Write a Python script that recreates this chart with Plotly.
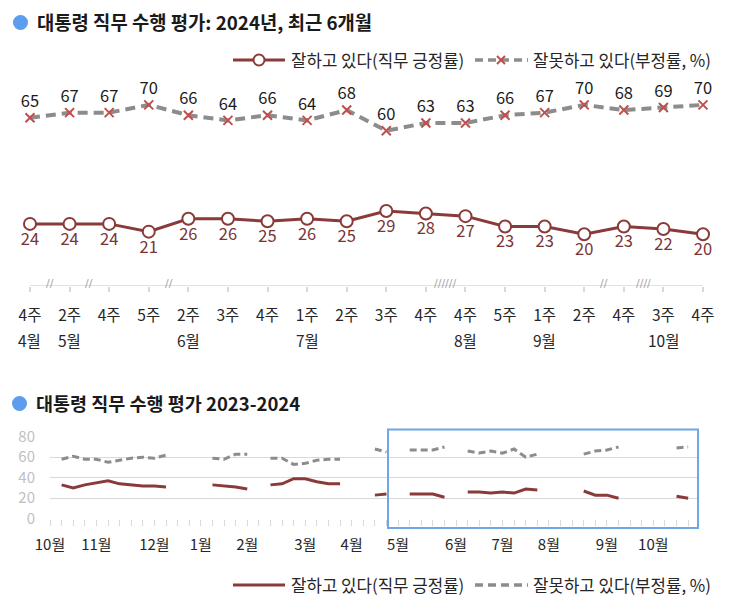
import plotly.graph_objects as go

# ---------------- data: top chart (2024, last 6 months) ----------------
weeks = ["4주", "2주", "4주", "5주", "2주", "3주", "4주", "1주", "2주", "3주",
         "4주", "4주", "5주", "1주", "2주", "4주", "3주", "4주"]
month_pos_top = [1, 2, 5, 8, 12, 14, 17]
month_lbl_top = ["4월", "5월", "6월", "7월", "8월", "9월", "10월"]
approve = [24, 24, 24, 21, 26, 26, 25, 26, 25, 29, 28, 27, 23, 23, 20, 23, 22, 20]
disapprove = [65, 67, 67, 70, 66, 64, 66, 64, 68, 60, 63, 63, 66, 67, 70, 68, 69, 70]
break_pos = [1.5, 2.5, 4.5, 11.5, 15.5, 16.5]
break_txt = ["//", "//", "//", "//////", "//", "////"]

# ---------------- data: bottom chart (weekly, 2023-10 .. 2024-10) ----------------
n_weeks = 56
seg_start = [1, 14, 19, 28, 31, 36, 46, 54]
seg_approve = [[33, 30, 33, 35, 37, 34, 33, 32, 32, 31],
               [33, 32, 31, 29],
               [33, 34, 39, 39, 36, 34, 34],
               [23, 24],
               [24, 24, 24, 21],
               [26, 26, 25, 26, 25, 29, 28],
               [27, 23, 23, 20],
               [22, 20]]
seg_disapprove = [[58, 61, 58, 58, 55, 57, 59, 60, 59, 62],
                  [59, 58, 63, 63],
                  [59, 59, 53, 54, 57, 58, 58],
                  [68, 65],
                  [67, 67, 67, 70],
                  [66, 64, 66, 64, 68, 60, 63],
                  [63, 66, 67, 70],
                  [69, 70]]
month_pos_bot = [0, 4, 9, 13, 17, 22, 26, 30, 35, 39, 43, 48, 52]
month_lbl_bot = ["10월", "11월", "12월", "1월", "2월", "3월", "4월", "5월",
                 "6월", "7월", "8월", "9월", "10월"]
legend_names = ["잘하고 있다(직무 긍정률)", "잘못하고 있다(부정률, %)"]

b_app = [None] * n_weeks
b_dis = [None] * n_weeks
for s, a, d in zip(seg_start, seg_approve, seg_disapprove):
    for i, (va, vd) in enumerate(zip(a, d)):
        b_app[s + i] = va
        b_dis[s + i] = vd

W, H = 745, 610
FONT = "Noto Sans CJK KR"
RED = "#8b3a3a"
GRAY = "#8c8c8c"
XRED = "#c0504d"
BLUE = "#6ea6e6"
TXT = "#262626"
LIGHT = "#d9d9d9"


def px_x(v):
    return v / W


def px_y(v):
    return 1 - v / H


fig = go.Figure()

x_top = list(range(1, len(weeks) + 1))
fig.add_trace(go.Scatter(
    x=x_top, y=approve, mode="lines+markers+text",
    name=legend_names[0],
    text=[str(v) for v in approve], textposition="bottom center",
    textfont=dict(family=FONT, size=16.5, color="#7a3434"),
    line=dict(color=RED, width=3),
    marker=dict(symbol="circle", size=12, color="white", line=dict(color=RED, width=2)),
    cliponaxis=False, xaxis="x", yaxis="y"))
fig.add_trace(go.Scatter(
    x=x_top, y=disapprove, mode="lines+markers+text",
    name=legend_names[1],
    text=[str(v) for v in disapprove], textposition="top center",
    textfont=dict(family=FONT, size=16.5, color="#1a1a1a"),
    line=dict(color=GRAY, width=4, dash="10px,6px"),
    marker=dict(symbol="x-thin", size=9, color=XRED, line=dict(color=XRED, width=2)),
    cliponaxis=False, xaxis="x", yaxis="y"))

x_bot = list(range(n_weeks))
fig.add_trace(go.Scatter(
    x=x_bot, y=b_app, mode="lines", name=legend_names[0],
    line=dict(color=RED, width=3), xaxis="x2", yaxis="y2"))
fig.add_trace(go.Scatter(
    x=x_bot, y=b_dis, mode="lines", name=legend_names[1],
    line=dict(color=GRAY, width=3, dash="7px,4px"), xaxis="x2", yaxis="y2"))

shapes = []
annotations = []

# top axis line from first to last point
shapes.append(dict(type="line", xref="x", yref="y", x0=1, x1=len(weeks), y0=0, y1=0,
                   line=dict(color=LIGHT, width=1.5), layer="below"))
# break marks
for p, t in zip(break_pos, break_txt):
    annotations.append(dict(xref="x", yref="y", x=p, y=0, text=t, showarrow=False,
                            yanchor="middle", yshift=3,
                            font=dict(family="DejaVu Sans", size=11, color="#a6a6a6")))
# top month labels
for p, t in zip(month_pos_top, month_lbl_top):
    annotations.append(dict(xref="x", yref="paper", x=p, y=px_y(340), text=t,
                            showarrow=False, yanchor="middle",
                            font=dict(family=FONT, size=15.5, color=TXT)))

# titles with blue dots
shapes.append(dict(type="circle", xref="paper", yref="paper",
                   x0=px_x(13), x1=px_x(28), y0=px_y(30), y1=px_y(15),
                   fillcolor="#5c9ded", line=dict(width=0)))
shapes.append(dict(type="circle", xref="paper", yref="paper",
                   x0=px_x(12), x1=px_x(27), y0=px_y(411), y1=px_y(396),
                   fillcolor="#5c9ded", line=dict(width=0)))
annotations.append(dict(xref="paper", yref="paper", x=px_x(35), y=px_y(22),
                        text="<b>대통령 직무 수행 평가: 2024년, 최근 6개월</b>",
                        showarrow=False, xanchor="left", yanchor="middle",
                        font=dict(family=FONT, size=18.8, color="#1a1a1a")))
annotations.append(dict(xref="paper", yref="paper", x=px_x(34), y=px_y(403),
                        text="<b>대통령 직무 수행 평가 2023-2024</b>",
                        showarrow=False, xanchor="left", yanchor="middle",
                        font=dict(family=FONT, size=18.5, color="#1a1a1a")))

# blue highlight box on bottom chart
shapes.append(dict(type="rect", xref="paper", yref="paper",
                   x0=px_x(388), x1=px_x(698), y0=px_y(528), y1=px_y(429.5),
                   line=dict(color=BLUE, width=2), fillcolor="rgba(0,0,0,0)"))


# custom legends (drawn as shapes + text)
def add_legend(yc, with_markers):
    # item 1: solid red line
    shapes.append(dict(type="line", xref="paper", yref="paper",
                       x0=px_x(233), x1=px_x(285), y0=px_y(yc), y1=px_y(yc),
                       line=dict(color=RED, width=3)))
    if with_markers:
        shapes.append(dict(type="circle", xref="paper", yref="paper",
                           x0=px_x(253.5), x1=px_x(264.5), y0=px_y(yc + 5.5), y1=px_y(yc - 5.5),
                           fillcolor="white", line=dict(color=RED, width=2)))
    annotations.append(dict(xref="paper", yref="paper", x=px_x(289), y=px_y(yc),
                            text=legend_names[0], showarrow=False, xanchor="left",
                            yanchor="middle", font=dict(family=FONT, size=16.8, color=TXT)))
    # item 2: dashed gray line
    shapes.append(dict(type="line", xref="paper", yref="paper",
                       x0=px_x(475), x1=px_x(528), y0=px_y(yc), y1=px_y(yc),
                       line=dict(color=GRAY, width=3.5, dash="8px,5px")))
    if with_markers:
        for dy in (4, -4):
            shapes.append(dict(type="line", xref="paper", yref="paper",
                               x0=px_x(497), x1=px_x(505), y0=px_y(yc - dy), y1=px_y(yc + dy),
                               line=dict(color=XRED, width=2)))
    annotations.append(dict(xref="paper", yref="paper", x=px_x(531), y=px_y(yc),
                            text=legend_names[1], showarrow=False, xanchor="left",
                            yanchor="middle", font=dict(family=FONT, size=16.8, color=TXT)))


add_legend(60, True)
add_legend(585, False)

bot_ticktext = [""] * n_weeks
for p, t in zip(month_pos_bot, month_lbl_bot):
    bot_ticktext[p] = t

fig.update_layout(
    width=W, height=H,
    margin=dict(l=0, r=0, t=0, b=0, autoexpand=False),
    paper_bgcolor="white", plot_bgcolor="white",
    font=dict(family=FONT, color=TXT),
    showlegend=False,
    xaxis=dict(domain=[px_x(10.2), px_x(722.8)], range=[0.5, 18.5],
               tickmode="array", tickvals=x_top, ticktext=weeks,
               ticks="outside", ticklen=5, tickcolor=LIGHT, tickwidth=1.5,
               showgrid=False, zeroline=False, showline=False,
               ticklabelstandoff=10, automargin=False,
               tickfont=dict(family=FONT, size=15.5, color=TXT)),
    yaxis=dict(domain=[px_y(286), px_y(79)], range=[0, 80], visible=False),
    xaxis2=dict(domain=[px_x(50), px_x(698)], range=[0, 55.85], anchor="y2",
                tickmode="array", tickvals=x_bot, ticktext=bot_ticktext,
                ticks="outside", ticklen=6, tickcolor=LIGHT, tickwidth=1,
                showgrid=False, zeroline=False, showline=False,
                ticklabelstandoff=6, automargin=False,
                tickfont=dict(family=FONT, size=15, color=TXT)),
    yaxis2=dict(domain=[px_y(518.7), px_y(436.7)], range=[0, 80], anchor="x2",
                tickvals=[0, 20, 40, 60, 80], showgrid=True, gridcolor=LIGHT,
                gridwidth=1, zeroline=False, showline=False,
                ticklabelstandoff=14, automargin=False,
                tickfont=dict(family=FONT, size=15, color="#bfbfbf")),
    shapes=shapes, annotations=annotations,
)

fig.write_html("out.html", config={"displayModeBar": False},
               post_script="document.body.style.margin='0';")
